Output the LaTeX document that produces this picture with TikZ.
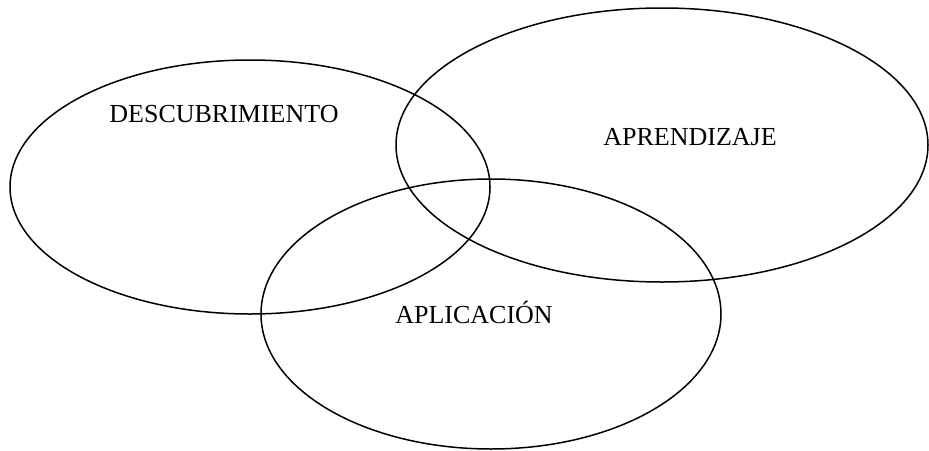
\documentclass[tikz,border=0pt]{standalone}
\usepackage{fontspec}
\setmainfont{Liberation Serif}
\begin{document}
\begin{tikzpicture}[x=1pt,y=-1pt,
  ring/.style={draw=black,line width=1.5pt},
  lbl/.style={font=\fontsize{26}{30}\selectfont,inner sep=0pt,anchor=base}]
\useasboundingbox (0,0) rectangle (929,450);
\draw[ring] (250,187) ellipse [x radius=240,y radius=127];
\draw[ring] (662,145) ellipse [x radius=266,y radius=137];
\draw[ring] (491,314) ellipse [x radius=230,y radius=135];
\node[lbl] (d) at (224,122) {DESCUBRIMIENTO};
\node[lbl] (a) at (690,145) {APRENDIZAJE};
\node[lbl] (p) at (474,323) {APLICACIÓN};
\end{tikzpicture}
\end{document}
